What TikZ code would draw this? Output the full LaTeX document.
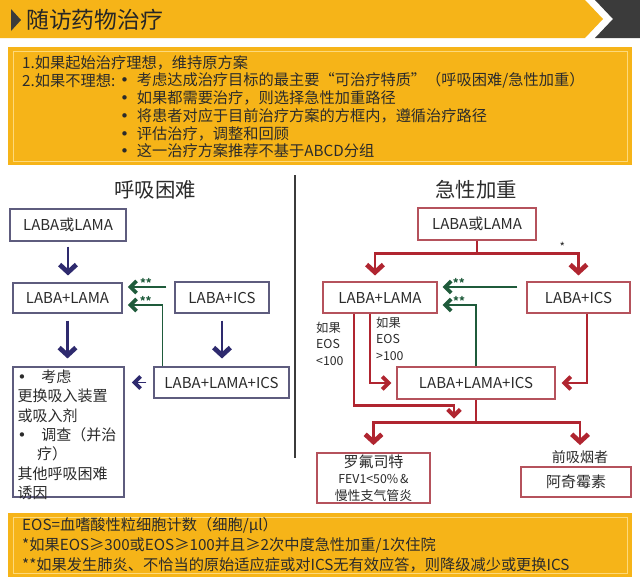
\documentclass[tikz,border=0pt]{standalone}
\usepackage{fontspec}
\setmainfont{Noto Sans CJK SC}
\newfontfamily\dotfont{DejaVu Sans}
\usetikzlibrary{arrows.meta,calc}
\definecolor{gold}{HTML}{F6B418}
\definecolor{goldline}{HTML}{FDD97A}
\definecolor{hdgray}{HTML}{3B3B3B}
\definecolor{navy}{HTML}{2E2A6E}
\definecolor{navyedge}{HTML}{5E5C7E}
\definecolor{crimson}{HTML}{B02530}
\definecolor{rededge}{HTML}{B5525C}
\definecolor{grn}{HTML}{1F5B3B}
\definecolor{txt}{HTML}{2B2B2B}
\newcommand\bul{{\dotfont •}}
\begin{document}
\begin{tikzpicture}[x=0.03cm,y=-0.03cm,
    lbox/.style={draw=navyedge, line width=0.9pt, inner sep=0pt, text=txt, font=\fontsize{12.8pt}{15pt}\selectfont},
    rbox/.style={draw=rededge, line width=0.9pt, inner sep=0pt, text=txt, font=\fontsize{12.8pt}{15pt}\selectfont},
    nvarr/.style={draw=navy, line width=1.8pt, -{Straight Barb[length=2.3mm,width=5mm,line width=4pt]}},
    nvarrs/.style={draw=navy, line width=1.6pt, -{Straight Barb[length=1.8mm,width=3.6mm,line width=3.2pt]}},
    redarr/.style={draw=crimson, line width=2pt, -{Straight Barb[length=2.3mm,width=5mm,line width=4pt]}},
    redarrs/.style={draw=crimson, line width=2pt, -{Straight Barb[length=1.9mm,width=3.8mm,line width=3.4pt]}},
    redln/.style={draw=crimson, line width=2pt},
    grnarr/.style={draw=grn, line width=1.6pt, -{Straight Barb[length=1.8mm,width=3.6mm,line width=3.2pt]}},
    stars/.style={text=grn, font=\fontsize{9.5pt}{9pt}\selectfont\bfseries, inner sep=0pt, anchor=south, yshift=-1.5pt},
    lbl/.style={text=txt, align=left, inner sep=0pt, font=\fontsize{10.5pt}{14pt}\selectfont},
    body/.style={text=txt, inner sep=0pt, font=\fontsize{13pt}{15.3pt}\selectfont},
  ]
\useasboundingbox (0,0) rectangle (640,579);
\fill[white] (0,0) rectangle (640,579);

% header
\fill[gold] (0,0) -- (585,0) -- (603,19) -- (585,38) -- (0,38) -- cycle;
\fill[hdgray] (595,0) -- (640,0) -- (640,38) -- (595,38) -- (613,19) -- cycle;
\fill[hdgray] (11,9) -- (21,20) -- (11,31) -- cycle;
\node[anchor=west, inner sep=0pt, text=black!85, font=\fontsize{19.5pt}{20pt}\selectfont] (ttl) at (26,20) {随访药物治疗};

% top box
\fill[gold] (8,47) rectangle (632,165);
\draw[goldline, line width=0.8pt] (13,51) rectangle (627,161);
\node[body, anchor=west] (ln1) at (22,63) {1.如果起始治疗理想，维持原方案};
\node[body, anchor=west] (ln2) at (22,81) {2.如果不理想:};
\node[body, anchor=north west, align=left, font=\fontsize{13pt}{15.3pt}\selectfont] (bulList) at (120,72)
  {\bul\hspace{0.5em}考虑达成治疗目标的最主要“可治疗特质”（呼吸困难/急性加重）\\
   \bul\hspace{0.5em}如果都需要治疗，则选择急性加重路径\\
   \bul\hspace{0.5em}将患者对应于目前治疗方案的方框内，遵循治疗路径\\
   \bul\hspace{0.5em}评估治疗，调整和回顾\\
   \bul\hspace{0.5em}这一治疗方案推荐不基于ABCD分组};

% divider
\draw[hdgray, line width=1.5pt] (295,175) -- (295,458);

% left: dyspnoea
\node[text=txt, font=\fontsize{17.4pt}{20pt}\selectfont] (lHead) at (155,190) {呼吸困难};
\node[lbox, minimum width=3.48cm, minimum height=0.96cm] (lLA) at (68,225) {LABA或LAMA};
\node[lbox, minimum width=3.27cm, minimum height=0.9cm] (lLL) at (67.5,298) {LABA+LAMA};
\node[lbox, minimum width=2.82cm, minimum height=0.93cm] (lLI) at (222,297.5) {LABA+ICS};
\node[lbox, minimum width=4.05cm, minimum height=0.93cm] (lTri) at (221.5,382.5) {LABA+LAMA+ICS};
\node[lbox, minimum width=3.33cm, minimum height=3.9cm] (lNote) at (68.5,432) {};
\node[lbox, draw=none, anchor=north west, align=left, font=\fontsize{12.8pt}{16.6pt}\selectfont] (lNoteTxt) at (17,369)
  {\bul\hspace{1em}考虑\\更换吸入装置\\或吸入剂\\\bul\hspace{1em}调查（并治\\\hspace{1.3em}疗）\\其他呼吸困难\\诱因};

\draw[nvarr, shorten <=1.5mm, shorten >=2.1mm] (lLA.south) -- (lLA.south |- lLL.north);
\draw[nvarr, shorten <=2.1mm, shorten >=2.4mm] (lLL.south) -- (lLL.south |- lNote.north);
\draw[nvarr, shorten <=2.1mm, shorten >=2.4mm] (lLI.south) -- (lLI.south |- lTri.north);
\draw[nvarrs, shorten <=2.1mm, shorten >=2.2mm] (lTri.west) -- (lTri.west -| lNote.east);

\draw[grnarr, shorten <=2.4mm, shorten >=1.6mm] ([yshift=3.15mm]lLI.west) -- ([yshift=3.15mm]lLI.west -| lLL.east)
  node[stars, pos=0.55] {**};
\draw[grnarr, shorten >=1.6mm] ([xshift=2.7mm]lTri.north west) |- ([yshift=-2.1mm]lLL.east)
  node[stars, pos=0.71] {**};

% right: exacerbations
\node[text=txt, font=\fontsize{17.4pt}{20pt}\selectfont] (rHead) at (476,190) {急性加重};
\node[rbox, minimum width=3.54cm, minimum height=0.96cm] (rLA) at (477,224) {LABA或LAMA};
\node[rbox, minimum width=3.42cm, minimum height=0.93cm] (rLL) at (380,297.5) {LABA+LAMA};
\node[rbox, minimum width=3.09cm, minimum height=0.93cm] (rLI) at (578.5,297.5) {LABA+ICS};
\node[rbox, minimum width=4.74cm, minimum height=0.96cm] (rTri) at (476,383) {LABA+LAMA+ICS};
\node[rbox, minimum width=3.39cm, minimum height=1.5cm, align=center, font=\fontsize{12.8pt}{15pt}\selectfont] (rRof) at (373.5,478)
  {罗氟司特\\[-1pt]{\fontsize{10.5pt}{15pt}\selectfont FEV1<50\%\,\&}\\[-1pt]{\fontsize{11pt}{15pt}\selectfont 慢性支气管炎}};
\node[rbox, minimum width=3.3cm, minimum height=0.9cm] (rAzi) at (576,482) {阿奇霉素};
\node[text=txt, inner sep=1pt, font=\fontsize{12pt}{14pt}\selectfont] (rSmk) at (580,457) {前吸烟者};
\node[lbl, anchor=north west] (eosLo) at (316,322) {如果\\EOS\\<100};
\node[lbl, anchor=north west] (eosHi) at (376,317) {如果\\EOS\\>100};

\coordinate (rSplit) at ($(rLA.south)+(0,13)$);
\coordinate (rMerge) at ($(rTri.south)+(0,23)$);
\coordinate (rJoin) at ($(rMerge)+(-22,-4)$);
\draw[redln] (rLA.south) -- (rSplit);
\draw[redarr, shorten >=1.8mm] (rSplit) -| ([xshift=-1.5mm]rLL.north);
\draw[redarr, shorten >=1.8mm] (rSplit) -| (rLI.north)
  node[pos=0.42, text=txt, inner sep=1pt, anchor=south, font=\fontsize{10pt}{10pt}\selectfont] {*};
\draw[redarrs] ([xshift=-7.8mm]rLL.south) |- ($(rJoin)+(0,-13)$) -- (rJoin);
\draw[redarrs, shorten >=1.5mm] ([xshift=-3mm]rLL.south) |- (rTri.west);
\draw[redarrs, shorten >=1.8mm] ([xshift=2.55mm]rLI.south) |- (rTri.east);
\draw[redln] (rTri.south) -- (rMerge);
\draw[redarr, shorten >=2.2mm] (rMerge) -| (rRof.north);
\draw[redarr, shorten >=1.2mm] (rMerge) -| (rSmk.north);

\draw[grnarr, shorten <=2.7mm, shorten >=1.5mm] ([yshift=3.15mm]rLI.west) -- ([yshift=3.15mm]rLI.west -| rLL.east)
  node[stars, pos=0.76] {**};
\draw[grnarr, shorten >=1.5mm] (rTri.north) |- ([yshift=-2.25mm]rLL.east)
  node[stars, pos=0.72] {**};

% bottom box
\fill[gold] (8,513) rectangle (632,577);
\draw[goldline, line width=0.8pt] (13,517) rectangle (627,573);
\node[body, anchor=west] (ft1) at (22,525) {EOS=血嗜酸性粒细胞计数（细胞/μl）};
\node[body, anchor=west] (ft2) at (22,545) {*如果EOS≥300或EOS≥100并且≥2次中度急性加重/1次住院};
\node[body, anchor=west] (ft3) at (22,564.5) {**如果发生肺炎、不恰当的原始适应症或对ICS无有效应答，则降级减少或更换ICS};
\end{tikzpicture}
\end{document}
